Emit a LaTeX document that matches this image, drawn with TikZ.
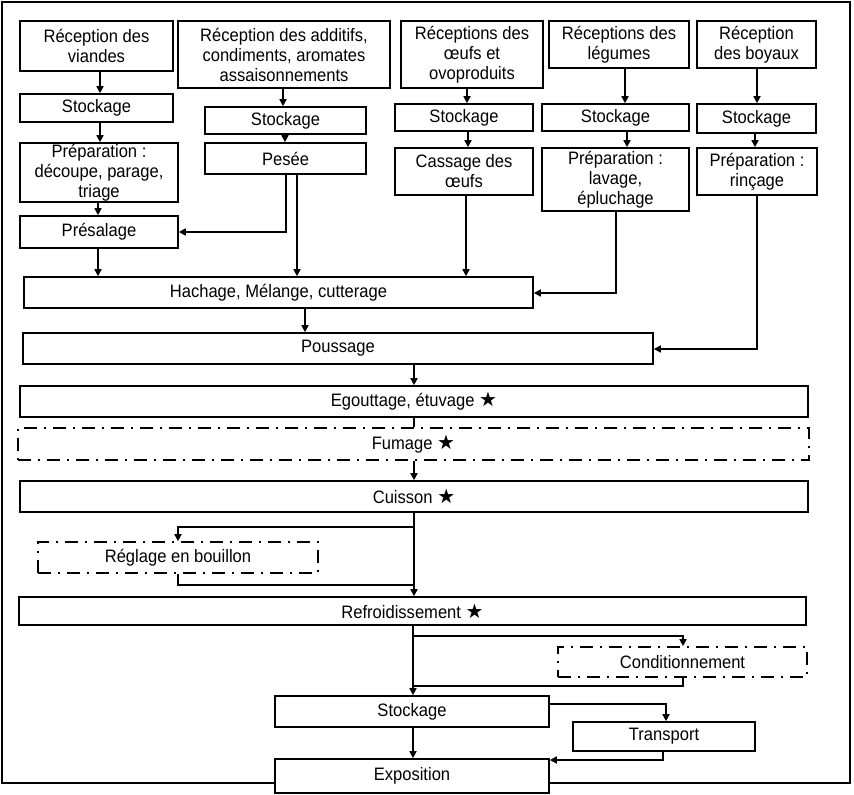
\documentclass[tikz,border=0pt]{standalone}
\usepackage{fontspec}
\setmainfont[FakeStretch=0.92]{Liberation Sans}
\newfontfamily\symfont{DejaVu Sans}
\usetikzlibrary{arrows.meta}
\newcommand{\etoile}{{\symfont\fontsize{20}{15}\selectfont ★}}
\begin{document}
\begin{tikzpicture}[x=1pt,y=-1pt,
  box/.style={draw, line width=1.6pt, fill=white, align=center, inner sep=0pt, font=\fontsize{18}{20}\selectfont},
  dbox/.style={box, dash pattern=on 13pt off 7pt on 2pt off 7pt},
  arr/.style={line width=1.6pt, -{Triangle[length=7pt,width=7pt]}},
  ln/.style={line width=1.6pt}]
\useasboundingbox (0,0) rectangle (854,795);
\draw[ln] (2,2) rectangle (850,783);
% column coordinates
\coordinate (c100) at (100,0);
\coordinate (c98) at (98,0);
\coordinate (c283) at (283,0);
\coordinate (c285) at (285,0);
\coordinate (c286) at (286,0);
\coordinate (c297) at (297,0);
\coordinate (c467) at (467,0);
\coordinate (c468) at (468,0);
\coordinate (c466) at (466,0);
\coordinate (c625) at (625,0);
\coordinate (c627) at (627,0);
\coordinate (c616) at (616,0);
\coordinate (c757) at (757,0);
\coordinate (c755) at (755,0);
\coordinate (c305) at (305,0);
\coordinate (c414) at (414,0);
\coordinate (c413) at (413,0);
\coordinate (c178) at (178,0);
\coordinate (c683) at (683,0);
\coordinate (c666) at (666,0);
\coordinate (c663) at (663,0);
\coordinate (r232) at (0,232);
\coordinate (r293) at (0,293);
\coordinate (r349) at (0,349);
\coordinate (r527) at (0,527);
\coordinate (r585) at (0,585);
\coordinate (r636) at (0,636);
\coordinate (r686) at (0,686);
\coordinate (r704) at (0,704);
\coordinate (r760) at (0,760);
% boxes
\node[box, minimum width=153pt, minimum height=50pt] (recv) at (96.5,46) {Réception des\\viandes};
\node[box, minimum width=212pt, minimum height=67pt] (reca) at (284,54.5) {Réception des additifs,\\condiments, aromates\\assaisonnements};
\node[box, minimum width=142pt, minimum height=67pt] (reco) at (472,54.5) {Réceptions des\\œufs et\\ovoproduits};
\node[box, minimum width=140pt, minimum height=47pt] (recl) at (619,44.5) {Réceptions des\\légumes};
\node[box, minimum width=119pt, minimum height=47pt] (recb) at (756.5,44.5) {Réception\\des boyaux};
\node[box, minimum width=153pt, minimum height=28pt] (stv) at (96.5,108) {Stockage};
\node[box, minimum width=161pt, minimum height=27pt] (sta) at (285.5,120.5) {Stockage};
\node[box, minimum width=138pt, minimum height=27pt] (sto) at (464,117.5) {Stockage};
\node[box, minimum width=147pt, minimum height=27pt] (stl) at (615.5,117.5) {Stockage};
\node[box, minimum width=119pt, minimum height=29pt] (stb) at (756.5,118.5) {Stockage};
\node[box, minimum width=158pt, minimum height=59pt] (prv) at (99,172.5) {Préparation :\\découpe, parage,\\triage};
\node[box, minimum width=161pt, minimum height=31pt] (pes) at (285.5,158.5) {Pesée};
\node[box, minimum width=138pt, minimum height=47pt] (cas) at (464,171.5) {Cassage des\\œufs};
\node[box, minimum width=147pt, minimum height=63pt] (prl) at (615.5,179.5) {Préparation :\\lavage,\\épluchage};
\node[box, minimum width=120pt, minimum height=47pt] (prb) at (757,171.5) {Préparation :\\rinçage};
\node[box, minimum width=158pt, minimum height=32pt] (pres) at (99,232) {Présalage};
\node[box, minimum width=509pt, minimum height=31pt] (hach) at (278.5,292.5) {Hachage, Mélange, cutterage};
\node[box, minimum width=630pt, minimum height=31pt] (pous) at (338,348.5) {Poussage};
\node[box, minimum width=788pt, minimum height=31pt] (egou) at (414,401.5) {Egouttage, étuvage \etoile};
\node[dbox, minimum width=791pt, minimum height=32pt] (fum) at (413.5,444) {Fumage \etoile};
\node[box, minimum width=788pt, minimum height=31pt] (cuis) at (414,496.5) {Cuisson \etoile};
\node[dbox, minimum width=280pt, minimum height=31pt] (regl) at (178,557.5) {Réglage en bouillon};
\node[box, minimum width=787pt, minimum height=28pt] (refr) at (412.5,611) {Refroidissement \etoile};
\node[dbox, minimum width=249pt, minimum height=30pt] (cond) at (682.5,662) {Conditionnement};
\node[box, minimum width=274pt, minimum height=31pt] (stf) at (412,711.5) {Stockage};
\node[box, minimum width=182pt, minimum height=29pt] (tran) at (664,736.5) {Transport};
\node[box, minimum width=274pt, minimum height=34pt] (expo) at (412,776) {Exposition};
% connectors
\draw[arr] (recv.south -| c100) -- (stv.north -| c100);
\draw[arr] (stv.south -| c100) -- (prv.north -| c100);
\draw[arr] (prv.south -| c98) -- (pres.north -| c98);
\draw[arr] (pres.south -| c98) -- (hach.north -| c98);
\draw[arr] (reca.south -| c283) -- (sta.north -| c283);
\draw[arr] (sta.south -| c285) -- (pes.north -| c285);
\draw[arr] (pes.south -| c286) -- (c286 |- r232) -- (pres.east);
\draw[arr] (pes.south -| c297) -- (hach.north -| c297);
\draw[arr] (reco.south -| c467) -- (sto.north -| c467);
\draw[arr] (sto.south -| c468) -- (cas.north -| c468);
\draw[arr] (cas.south -| c466) -- (hach.north -| c466);
\draw[arr] (recl.south -| c625) -- (stl.north -| c625);
\draw[arr] (stl.south -| c627) -- (prl.north -| c627);
\draw[arr] (prl.south -| c616) -- (c616 |- r293) -- (hach.east |- r293);
\draw[arr] (recb.south -| c757) -- (stb.north -| c757);
\draw[arr] (stb.south -| c755) -- (prb.north -| c755);
\draw[arr] (prb.south -| c757) -- (c757 |- r349) -- (pous.east |- r349);
\draw[arr] (hach.south -| c305) -- (pous.north -| c305);
\draw[arr] (pous.south -| c414) -- (egou.north -| c414);
\draw[ln] (egou.south -| c414) -- (fum.north -| c414);
\draw[arr] (fum.south -| c414) -- (cuis.north -| c414);
\draw[arr] (cuis.south -| c414) -- (refr.north -| c414);
\draw[arr] (c414 |- r527) -- (c178 |- r527) -- (regl.north);
\draw[ln] (regl.south) -- (c178 |- r585) -- (c414 |- r585);
\draw[arr] (refr.south -| c413) -- (stf.north -| c413);
\draw[arr] (c413 |- r636) -- (c683 |- r636) -- (cond.north -| c683);
\draw[ln] (cond.south -| c683) -- (c683 |- r686) -- (c413 |- r686);
\draw[arr] (stf.east |- r704) -- (c666 |- r704) -- (tran.north -| c666);
\draw[arr] (tran.south -| c663) -- (c663 |- r760) -- (expo.east |- r760);
\draw[arr] (stf.south -| c413) -- (expo.north -| c413);
\end{tikzpicture}
\end{document}
